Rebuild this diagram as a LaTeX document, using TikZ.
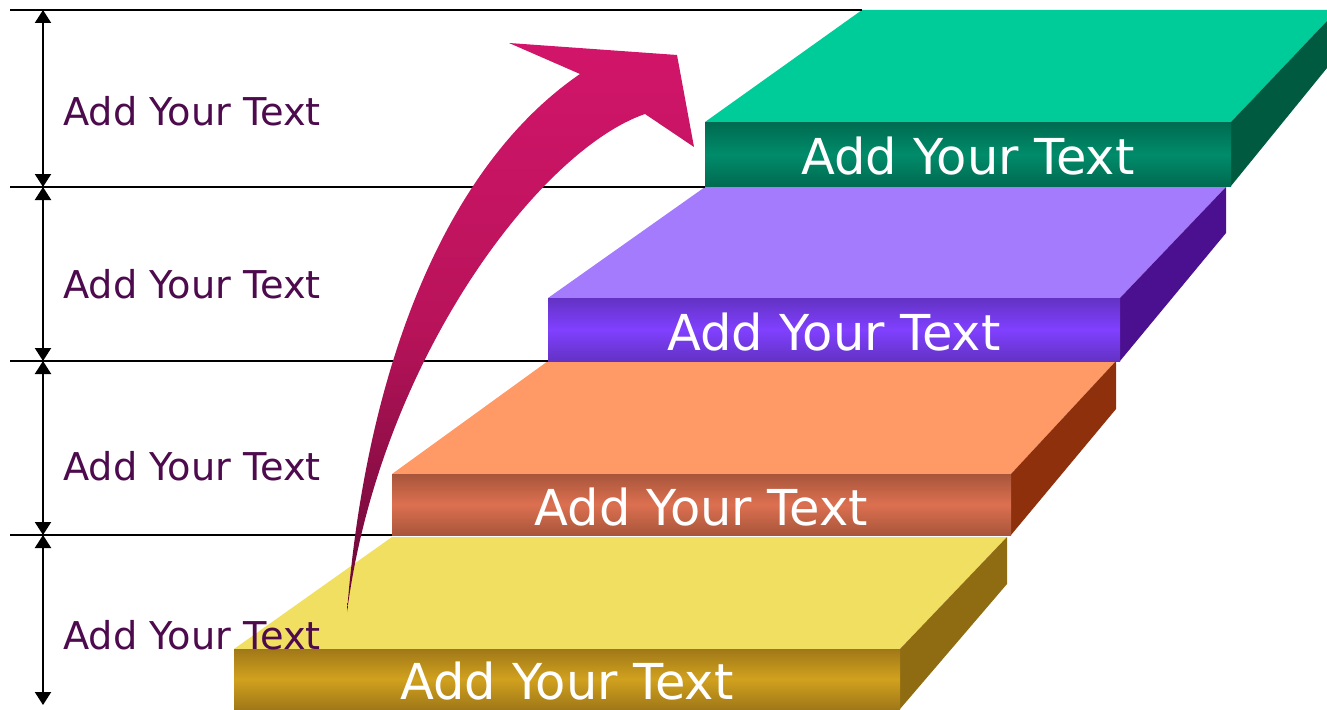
\documentclass[tikz,border=0pt]{standalone}
\usepackage{fontspec}
\setmainfont{DejaVu Sans}
\usetikzlibrary{arrows.meta}
\definecolor{gtop}{HTML}{00CC99}
\definecolor{gside}{HTML}{005A40}
\definecolor{gmid}{HTML}{008C6A}
\definecolor{gdark}{HTML}{006A50}
\definecolor{ptop}{HTML}{A57BFD}
\definecolor{pside}{HTML}{4B108F}
\definecolor{pmid}{HTML}{8040FF}
\definecolor{pdark}{HTML}{6332C4}
\definecolor{otop}{HTML}{FF9966}
\definecolor{oside}{HTML}{8E300C}
\definecolor{omid}{HTML}{DC7050}
\definecolor{odark}{HTML}{A8553B}
\definecolor{ytop}{HTML}{F0DF60}
\definecolor{yside}{HTML}{8F6C12}
\definecolor{ymid}{HTML}{D1A11E}
\definecolor{ydark}{HTML}{A07818}
\definecolor{labelc}{HTML}{4D0A4D}
\definecolor{arrtop}{HTML}{D2156A}
\definecolor{arrmid}{HTML}{B8135A}
\definecolor{arrbot}{HTML}{650835}
\tikzset{
  front/.style={draw=none, inner sep=0pt},
  fronttext/.style={inner sep=0pt, text=white,
    font=\fontsize{49.5}{52}\selectfont},
  sidelabel/.style={anchor=west, inner sep=0pt, text=labelc,
    font=\fontsize{38.3}{42}\selectfont},
  hline/.style={line width=2pt, black},
  dimline/.style={line width=2pt, black, {Triangle[length=13pt,width=16pt]}-{Triangle[length=13pt,width=16pt]}},
}
\begin{document}
\begin{tikzpicture}[x=1pt,y=-1pt]
\useasboundingbox (0,0) rectangle (1327,709);
\begin{scope}
\clip (0,0) rectangle (1327,709);
% yellow step
\fill[ytop] (234,649) -- (392,537) -- (1007,537) -- (900,649) -- cycle;
\fill[yside] (900,649) -- (1007,537) -- (1007,584) -- (900,709) -- cycle;
\node[front, minimum width=666pt, minimum height=60pt, top color=ydark, bottom color=ydark, middle color=ymid] (s1) at (567,679) {};
% orange step
\fill[otop] (392,474) -- (548,361) -- (1116,361) -- (1011,474) -- cycle;
\fill[oside] (1011,474) -- (1116,361) -- (1116,409) -- (1011,535) -- cycle;
\node[front, minimum width=619pt, minimum height=61pt, top color=odark, bottom color=odark, middle color=omid] (s2) at (701.5,504.5) {};
% purple step
\fill[ptop] (548,298) -- (705,187) -- (1226,187) -- (1120,298) -- cycle;
\fill[pside] (1120,298) -- (1226,187) -- (1226,233) -- (1120,361) -- cycle;
\node[front, minimum width=572pt, minimum height=63pt, top color=pdark, bottom color=pdark, middle color=pmid] (s3) at (834,329.5) {};
% green step
\fill[gtop] (705,122) -- (862,10) -- (1327,10) -- (1327,21) -- (1231,122) -- cycle;
\fill[gside] (1231,122) -- (1327,21) -- (1327,68) -- (1231,186) -- cycle;
\node[front, minimum width=526pt, minimum height=64pt, top color=gdark, bottom color=gdark, middle color=gmid] (s4) at (968,154.5) {};
\end{scope}
\node[fronttext] (s1t) at ([yshift=-2.5pt]s1.center) {Add Your Text};
\node[fronttext] (s2t) at ([yshift=-3pt]s2.center) {Add Your Text};
\node[fronttext] (s3t) at ([yshift=-2.5pt]s3.center) {Add Your Text};
\node[fronttext] (s4t) at ([yshift=-2pt]s4.center) {Add Your Text};
% guide lines
\coordinate (l0a) at (10,10);  \coordinate (l0b) at (862,10);
\coordinate (l1a) at (10,187); \coordinate (l1b) at (705,187);
\coordinate (l2a) at (10,361); \coordinate (l2b) at (548,361);
\coordinate (l3a) at (10,535); \coordinate (l3b) at (392,535);
\coordinate (d0) at (43,10);
\coordinate (d1) at (43,187);
\coordinate (d2) at (43,361);
\coordinate (d3) at (43,535);
\coordinate (d4) at (43,705);
\draw[hline] (l0a) -- (l0b);
\draw[hline] (l1a) -- (l1b);
\draw[hline] (l2a) -- (l2b);
\draw[hline] (l3a) -- (l3b);
\draw[dimline] (d0) -- (d1);
\draw[dimline] (d1) -- (d2);
\draw[dimline] (d2) -- (d3);
\draw[dimline] (d3) -- (d4);
% curved arrow
\shade[top color=arrtop, bottom color=arrbot, middle color=arrmid]
  (347,612) .. controls (365,380) and (440,170) .. (580,74)
  -- (509,43) -- (677,55) -- (694,147) -- (645,114)
  .. controls (540,150) and (380,360) .. (347,612) -- cycle;
% side labels
\node[sidelabel] (t1) at (63,111) {Add Your Text};
\node[sidelabel] (t2) at (63,284) {Add Your Text};
\node[sidelabel] (t3) at (63,466) {Add Your Text};
\node[sidelabel] (t4) at (63,635) {Add Your Text};
\end{tikzpicture}
\end{document}
